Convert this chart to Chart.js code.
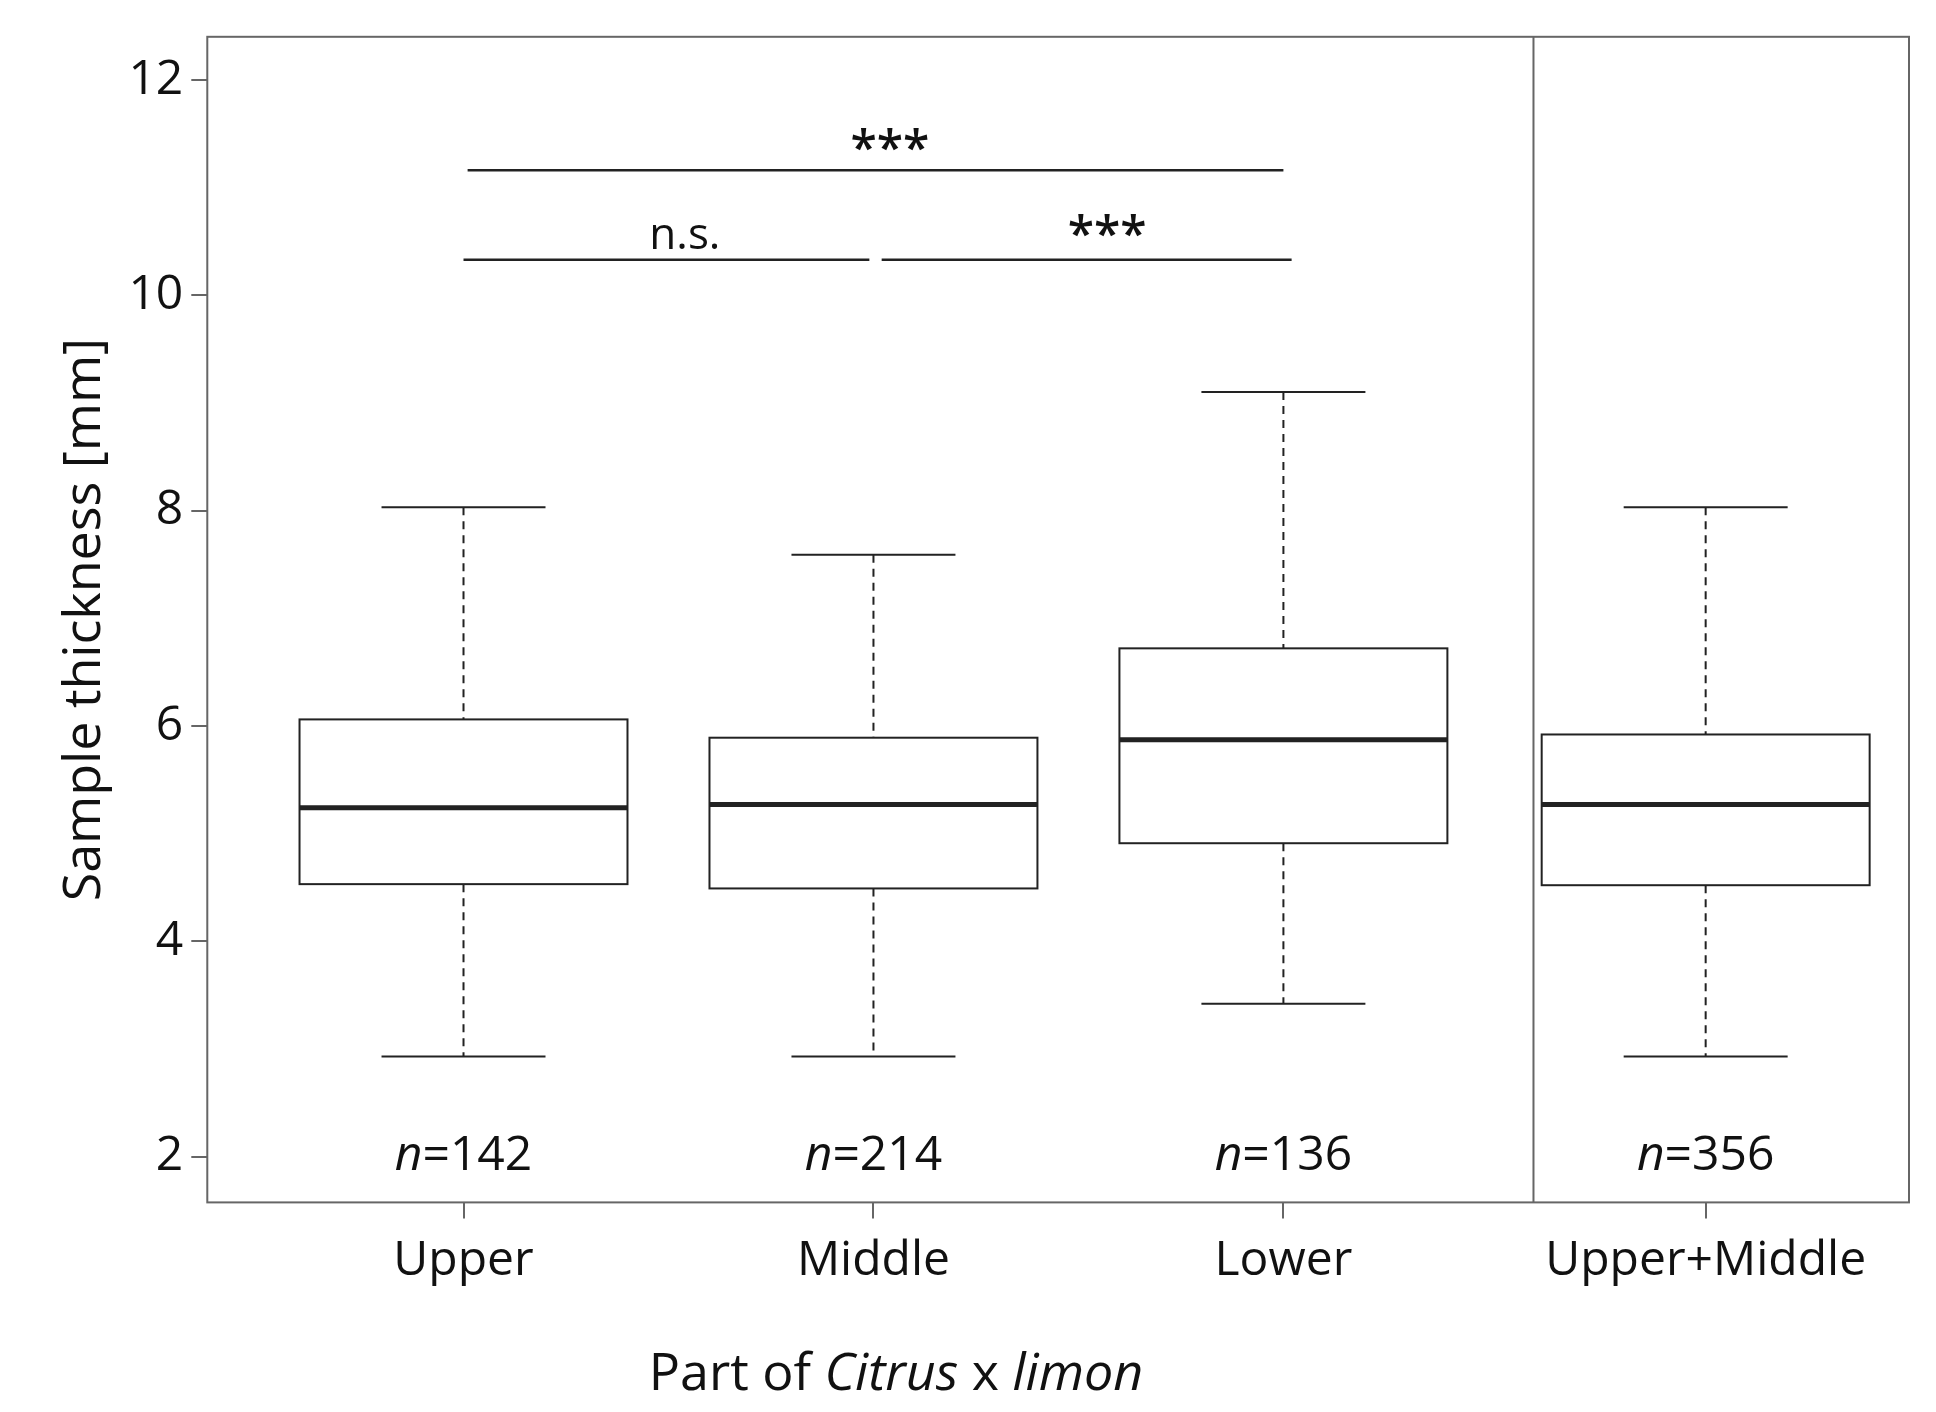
<!DOCTYPE html>
<html><head><meta charset="utf-8">
<script src="https://cdn.jsdelivr.net/npm/chart.js@4/dist/chart.umd.min.js"></script>
<style>body{margin:0;background:#fff}#wrap{width:1936px;height:1412px}</style>
</head><body><div id="wrap"><canvas id="c"></canvas></div>
<script>
const categories = ['Upper', 'Middle', 'Lower', 'Upper+Middle'];
const positions = [0, 1, 2, 3.03];
const whiskerHigh = [8.03, 7.59, 9.10, 8.03];
const q3 = [6.06, 5.89, 6.72, 5.92];
const medians = [5.24, 5.27, 5.87, 5.27];
const q1 = [4.53, 4.49, 4.91, 4.52];
const whiskerLow = [2.93, 2.93, 3.42, 2.93];
const counts = [142, 214, 136, 356];
const yTicks = [2, 4, 6, 8, 10, 12];
// significance bars: [x1, x2, y, label, labelX, labelY]
const sigBars = [
    [0.01, 2.0, 11.16, '***', 1.04, 11.45],
    [0.0, 0.99, 10.33, 'n.s.', 0.54, 10.55],
    [1.02, 2.02, 10.33, '***', 1.57, 10.65]
];
const separatorX = 2.61;

const FONT = '"Open Sans", sans-serif';
const boxHalf = 0.40, capHalf = 0.20;

const boxPlugin = {
    id: 'boxes',
    afterDraw(chart) {
        const ctx = chart.ctx, x = chart.scales.x, y = chart.scales.y, a = chart.chartArea;
        const X = v => x.getPixelForValue(v), Y = v => y.getPixelForValue(v);
        ctx.save();
        ctx.strokeStyle = '#222';
        positions.forEach((p, i) => {
            ctx.lineWidth = 2;
            ctx.setLineDash([8, 6]);
            ctx.beginPath();
            ctx.moveTo(X(p), Y(whiskerHigh[i])); ctx.lineTo(X(p), Y(q3[i]));
            ctx.moveTo(X(p), Y(q1[i])); ctx.lineTo(X(p), Y(whiskerLow[i]));
            ctx.stroke();
            ctx.setLineDash([]);
            ctx.beginPath();
            ctx.moveTo(X(p - capHalf), Y(whiskerHigh[i])); ctx.lineTo(X(p + capHalf), Y(whiskerHigh[i]));
            ctx.moveTo(X(p - capHalf), Y(whiskerLow[i])); ctx.lineTo(X(p + capHalf), Y(whiskerLow[i]));
            ctx.stroke();
            ctx.strokeRect(X(p - boxHalf), Y(q3[i]), X(p + boxHalf) - X(p - boxHalf), Y(q1[i]) - Y(q3[i]));
            ctx.lineWidth = 5;
            ctx.beginPath();
            ctx.moveTo(X(p - boxHalf), Y(medians[i])); ctx.lineTo(X(p + boxHalf), Y(medians[i]));
            ctx.stroke();
            // n labels
            ctx.fillStyle = '#111';
            ctx.textBaseline = 'middle';
            ctx.font = 'italic 48px ' + FONT;
            const w1 = ctx.measureText('n').width;
            ctx.font = '48px ' + FONT;
            const rest = '=' + counts[i];
            const w2 = ctx.measureText(rest).width;
            const sx = X(p) - (w1 + w2) / 2;
            ctx.textAlign = 'left';
            ctx.font = 'italic 48px ' + FONT;
            ctx.fillText('n', sx, Y(2));
            ctx.font = '48px ' + FONT;
            ctx.fillText(rest, sx + w1, Y(2));
        });
        ctx.lineWidth = 2.5;
        ctx.textAlign = 'center';
        sigBars.forEach(b => {
            ctx.beginPath(); ctx.moveTo(X(b[0]), Y(b[2])); ctx.lineTo(X(b[1]), Y(b[2])); ctx.stroke();
            ctx.font = (b[3] === '***' ? '600 48px ' : '44px ') + FONT;
            ctx.fillText(b[3], X(b[4]), Y(b[5]) + (b[3] === '***' ? 12 : 0));
        });
        ctx.strokeStyle = '#666'; ctx.lineWidth = 2;
        ctx.beginPath(); ctx.moveTo(X(separatorX), a.top); ctx.lineTo(X(separatorX), a.bottom); ctx.stroke();
        ctx.strokeRect(a.left, a.top, a.right - a.left, a.bottom - a.top);
        // x title
        const parts = [['Part of ', ''], ['Citrus', 'italic '], [' x ', ''], ['limon', 'italic ']];
        let total = 0;
        parts.forEach(pt => { ctx.font = pt[1] + '52px ' + FONT; total += ctx.measureText(pt[0]).width; });
        let cx = 896 - total / 2;
        ctx.textAlign = 'left'; ctx.fillStyle = '#111';
        parts.forEach(pt => { ctx.font = pt[1] + '52px ' + FONT; ctx.fillText(pt[0], cx, 1375); cx += ctx.measureText(pt[0]).width; });
        ctx.restore();
    }
};

new Chart(document.getElementById('c'), {
    type: 'scatter',
    data: { datasets: [{ data: [] }] },
    options: {
        responsive: true, maintainAspectRatio: false, animation: false,
        layout: { padding: { left: 50, right: 27, top: 27, bottom: 108 } },
        plugins: { legend: { display: false }, tooltip: { enabled: false } },
        scales: {
            x: {
                type: 'linear', min: -0.625, max: 3.526,
                afterBuildTicks: ax => { ax.ticks = positions.map(v => ({ value: v })); },
                ticks: { callback: (v, i) => categories[i], color: '#111', font: { size: 48, family: FONT }, padding: 14, maxRotation: 0, autoSkip: false },
                grid: { drawOnChartArea: false, tickLength: 16, color: '#666', lineWidth: 2 },
                border: { display: false }
            },
            y: {
                min: 1.574, max: 12.40,
                afterBuildTicks: ax => { ax.ticks = yTicks.map(v => ({ value: v })); },
                ticks: { color: '#111', font: { size: 48, family: FONT }, padding: 8 },
                grid: { drawOnChartArea: false, tickLength: 16, color: '#666', lineWidth: 2 },
                border: { display: false },
                title: { display: true, text: 'Sample thickness [mm]', color: '#111', font: { size: 52, family: FONT }, padding: 4 }
            }
        }
    },
    plugins: [boxPlugin]
});
</script></body></html>
